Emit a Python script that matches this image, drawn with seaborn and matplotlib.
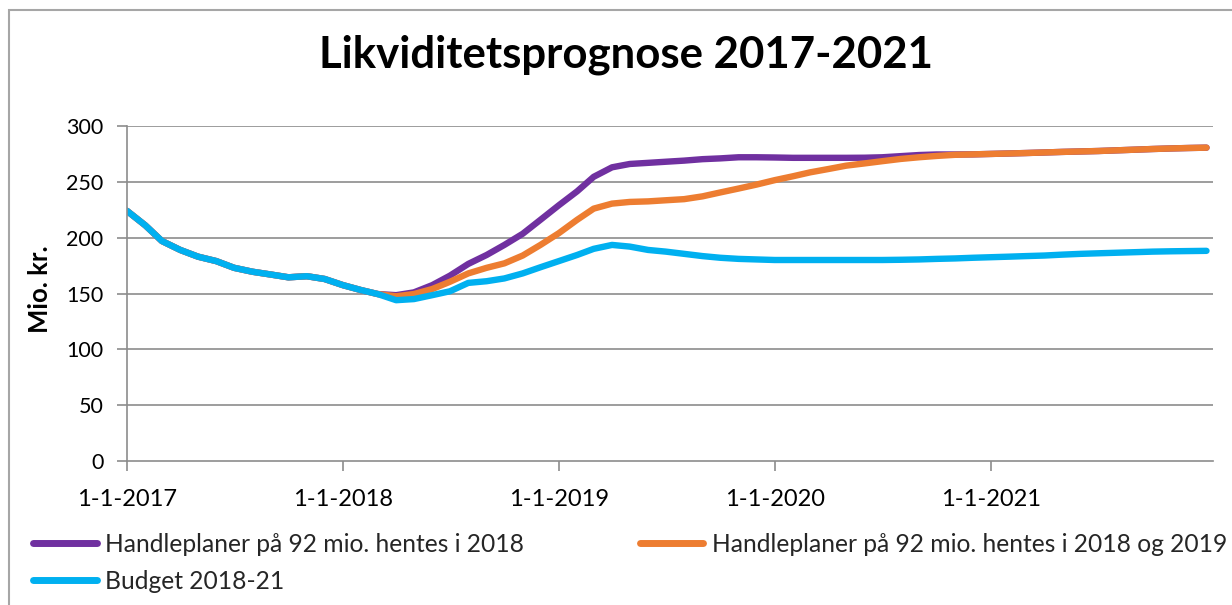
import matplotlib
matplotlib.use("Agg")
import matplotlib.pyplot as plt
from matplotlib.lines import Line2D
from matplotlib.patches import Rectangle
import seaborn as sns
import pandas as pd

# ---- data ----
dates = list(pd.date_range("2017-01-01", periods=60, freq="MS")) + [pd.Timestamp("2021-12-31")]

budget = [224, 211, 197, 189, 183, 179, 173, 169.5, 167, 164.5,
          165.5, 163, 157.5, 153, 149.5, 144, 145, 148.5, 152, 159.5,
          161, 163.5, 168, 173.5, 179, 184.5, 190, 193.5, 192, 189,
          187.5, 185.5, 183.5, 182, 181, 180.5, 180, 180, 180, 180,
          180, 180, 180, 180.2, 180.5, 181, 181.4, 182, 182.5, 183,
          183.5, 184, 184.8, 185.5, 186, 186.5, 187, 187.5, 187.8, 188,
          188.2]

plan_2018 = [224, 211, 197, 189, 183, 179, 173, 169.5, 167, 164.5,
             165.5, 163, 157.5, 153, 149.5, 148.5, 151, 157.5, 166, 176.5,
             184.5, 193.5, 203.5, 216, 229, 241.5, 254.5, 263, 266, 267,
             268, 269, 270.3, 271, 272, 272, 271.8, 271.5, 271.5, 271.5,
             271.5, 271.6, 272, 273, 274, 274.5, 274.5, 274.6, 275, 275.4,
             275.8, 276.3, 276.8, 277.2, 277.6, 278.2, 278.8, 279.4, 279.9, 280.3,
             280.6]

plan_2018_2019 = [224, 211, 197, 189, 183, 179, 173, 169.5, 167, 164.5,
                  165.5, 163, 157.5, 153, 149.5, 147.5, 149.5, 154, 160.5, 168,
                  173, 177, 184, 193.5, 204, 216, 226, 230.5, 232, 232.5,
                  233.5, 234.5, 237, 240.5, 244, 247.5, 251.5, 255, 258.5, 261.5,
                  264.5, 266.5, 268.5, 270.5, 272, 273.2, 274.2, 274.6, 275, 275.4,
                  275.8, 276.3, 276.8, 277.2, 277.6, 278.2, 278.8, 279.4, 279.9, 280.3,
                  280.6]

series_names = ["Handleplaner på 92 mio. hentes i 2018",
                "Handleplaner på 92 mio. hentes i 2018 og 2019",
                "Budget 2018-21"]
series_colors = ["#7030A0", "#ED7D31", "#00B0F0"]

x_ticks = ["2017-01-01", "2018-01-01", "2019-01-01", "2020-01-01", "2021-01-01"]
x_tick_labels = ["1-1-2017", "1-1-2018", "1-1-2019", "1-1-2020", "1-1-2021"]
y_ticks = [0, 50, 100, 150, 200, 250, 300]

title = "Likviditetsprognose 2017-2021"
y_label = "Mio. kr."

# ---- long-form frame ----
frames = []
for name, vals in zip(series_names, [plan_2018, plan_2018_2019, budget]):
    frames.append(pd.DataFrame({"Dato": dates, "Værdi": vals, "Serie": name}))
df = pd.concat(frames, ignore_index=True)

sns.set_theme(style="white")
plt.rcParams["font.family"] = ["Lato", "DejaVu Sans"]

W, H = 1232, 605
fig = plt.figure(figsize=(W / 100, H / 100), dpi=100)
ax = fig.add_axes([127 / W, 1 - 461 / H, (1213 - 127) / W, (461 - 126) / H])

grid_c = "#8c8c8c"
for yv in y_ticks[1:]:
    ax.axhline(yv, color=grid_c, lw=1.2, zorder=0)

sns.lineplot(data=df, x="Dato", y="Værdi", hue="Serie", hue_order=series_names,
             palette=dict(zip(series_names, series_colors)), linewidth=4.6,
             ax=ax, legend=False)

ax.set_xlim(pd.Timestamp("2017-01-01"), pd.Timestamp("2022-01-11"))
ax.set_ylim(0, 300)
ax.set_xticks([pd.Timestamp(t) for t in x_ticks])
ax.set_xticklabels(x_tick_labels)
ax.set_yticks(y_ticks)
ax.set_xlabel("")
ax.set_ylabel("")

for s in ["top", "right"]:
    ax.spines[s].set_visible(False)
for s in ["left", "bottom"]:
    ax.spines[s].set_color(grid_c)
    ax.spines[s].set_linewidth(1.2)
ax.tick_params(axis="both", which="both", direction="out", color=grid_c,
               length=7, width=1.2, labelcolor="black",
               bottom=True, left=True)
ax.tick_params(axis="x", pad=13, labelsize=17)
ax.tick_params(axis="y", pad=10, labelsize=15.5)

fig.text(626 / W, 1 - 55 / H, title, ha="center", va="center",
         fontsize=31.5, fontweight="bold", color="black")
fig.text(40 / W, 1 - 289 / H, y_label, ha="center", va="center",
         rotation=90, fontsize=18.5, fontweight="bold", color="black")

# chart-area border
fig.patches.append(Rectangle((9 / W, -0.05), 1.2, 1 - 9.5 / H + 0.05,
                             transform=fig.transFigure, fill=False,
                             edgecolor="#a6a6a6", lw=1.5))

handles = [Line2D([], [], color=c, lw=5) for c in series_colors]
order = [0, 2, 1]
fig.legend([handles[i] for i in order], [series_names[i] for i in order],
           ncol=2, loc="upper left", bbox_to_anchor=(33 / W, 1 - 533 / H),
           frameon=False, fontsize=17.7, handlelength=2.6, handletextpad=0.33,
           columnspacing=4.7, labelspacing=0.56, borderpad=0, borderaxespad=0)

fig.savefig("out.png", dpi=100)
